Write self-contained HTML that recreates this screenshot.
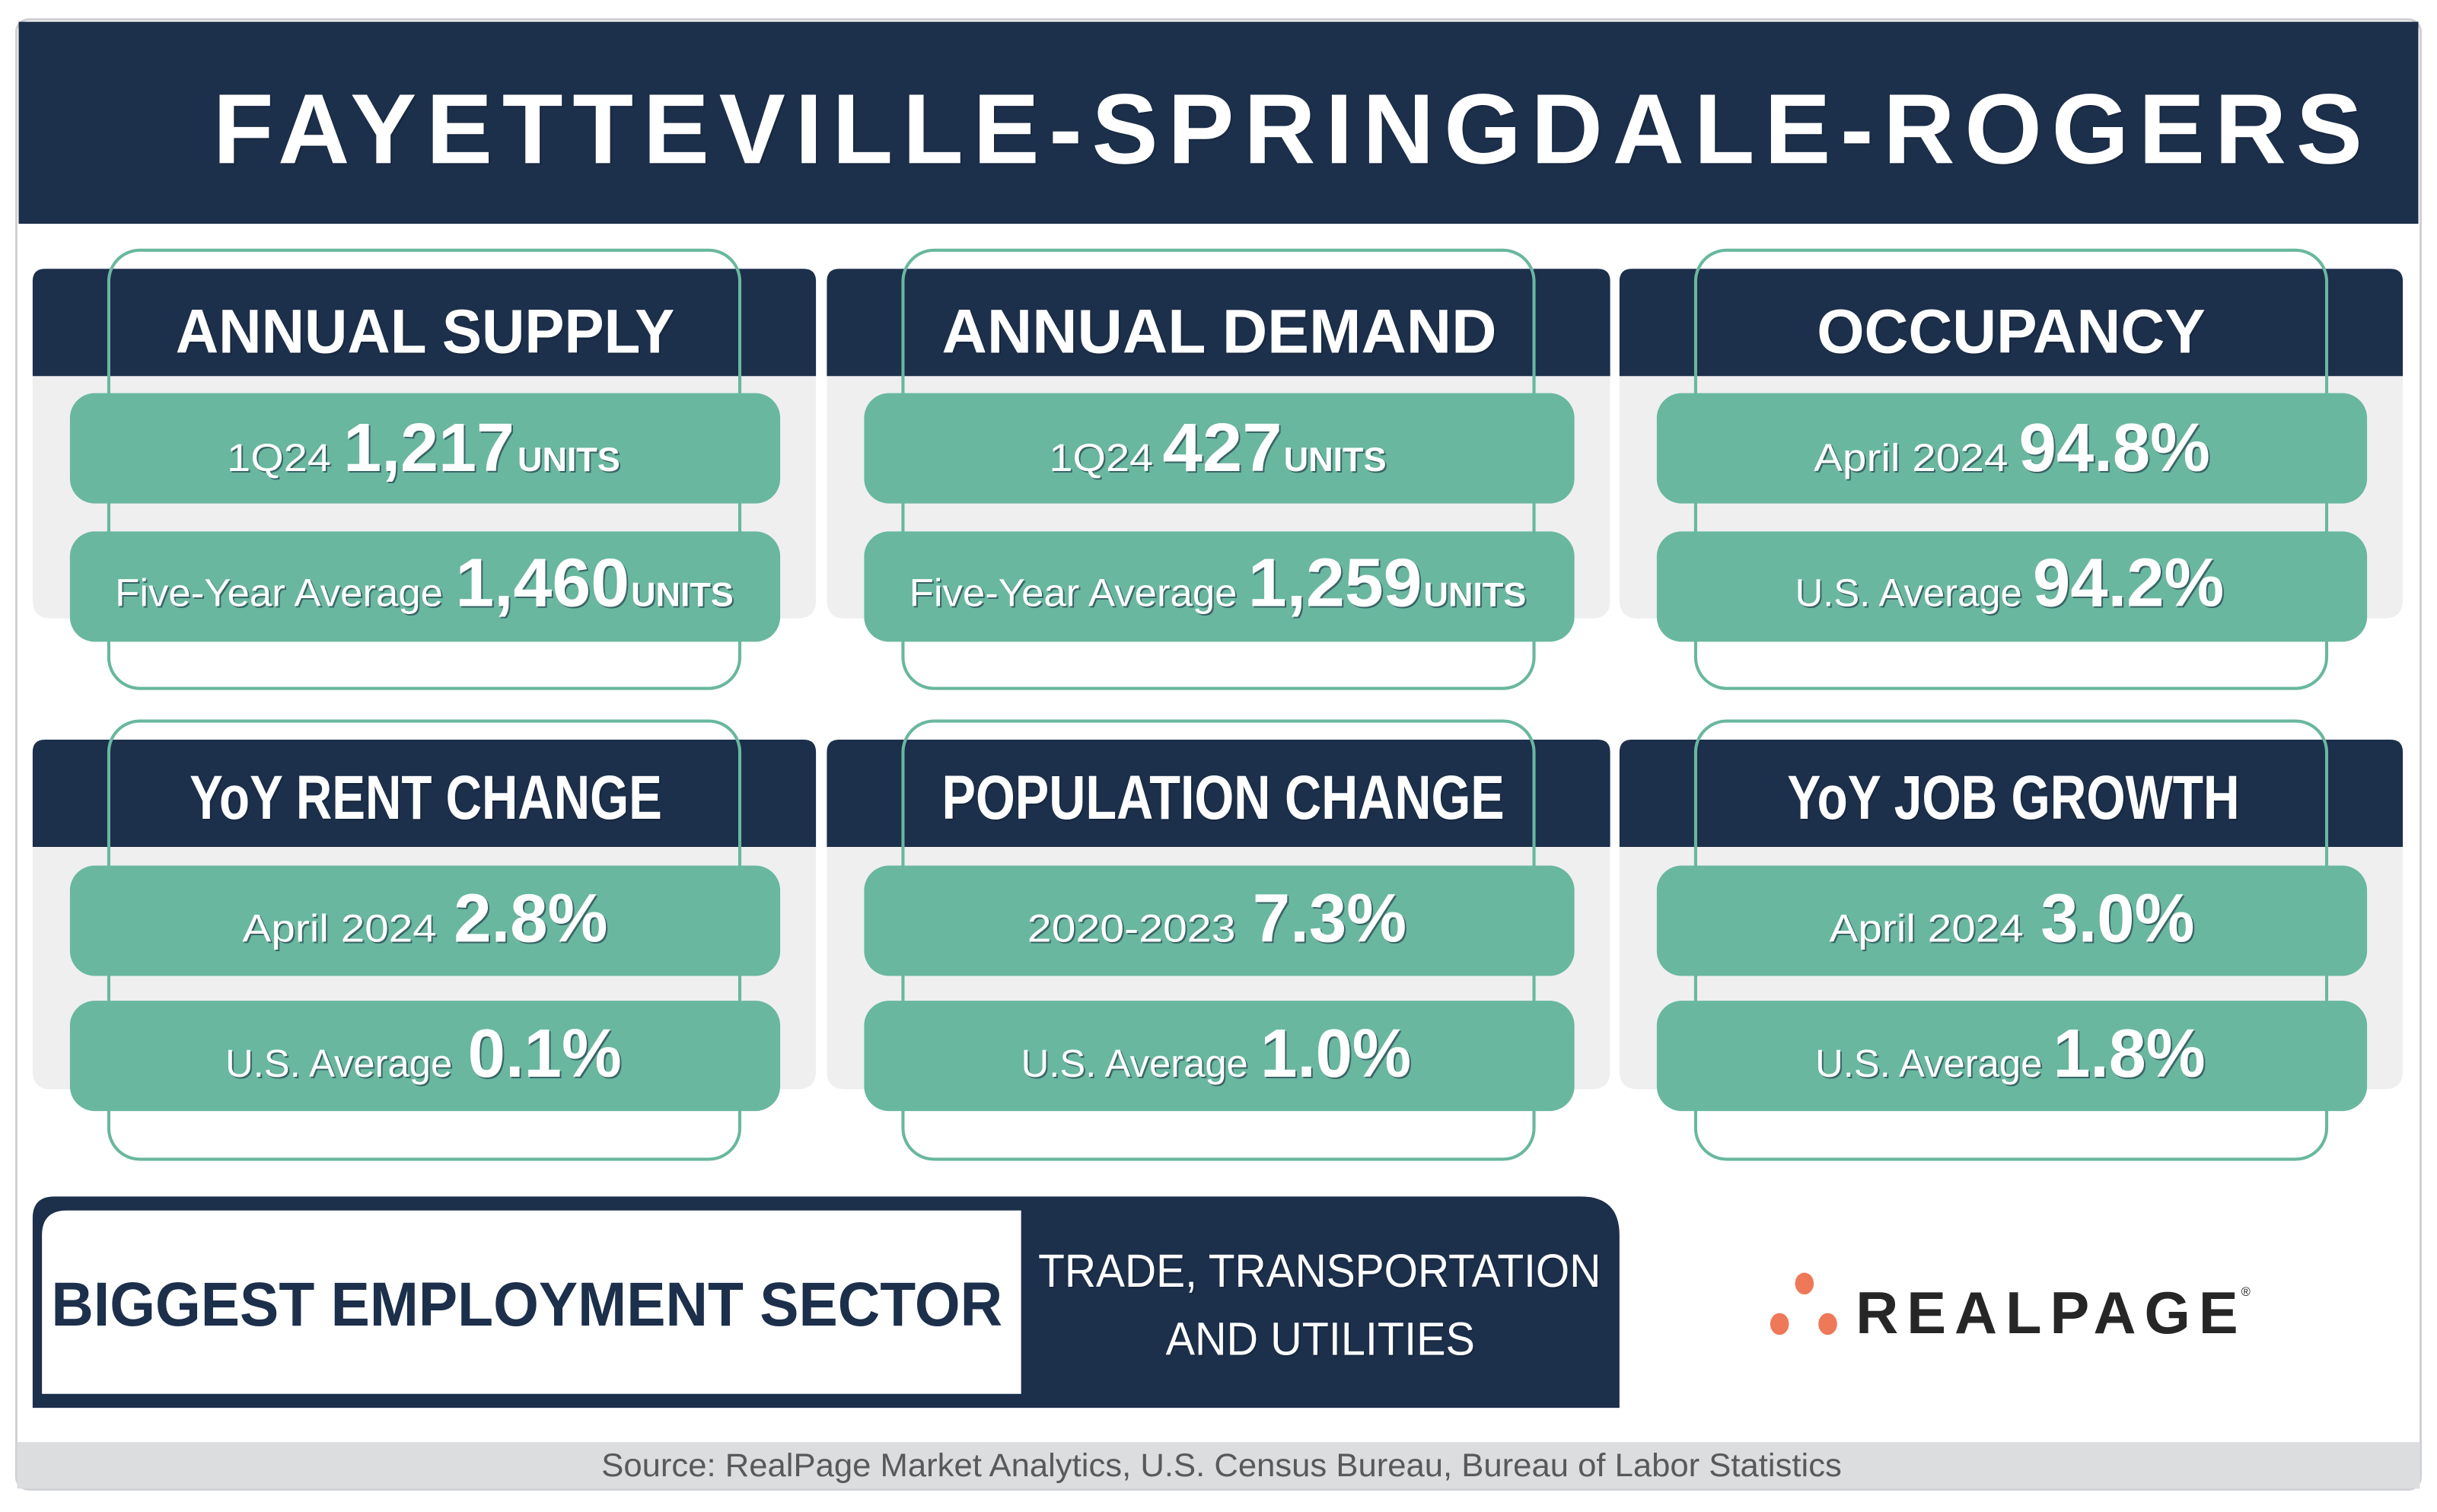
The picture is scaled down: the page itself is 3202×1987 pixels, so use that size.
<!DOCTYPE html>
<html><head><meta charset="utf-8">
<style>
html,body{margin:0;padding:0;background:#fff;}
svg{display:block;}
text{font-family:"Liberation Sans",sans-serif;}
.sh{filter:drop-shadow(1.2px 1.5px 0 rgba(20,35,55,0.55));}
</style></head>
<body>
<svg id="root" width="3202" height="1987" viewBox="0 0 1568 973" xmlns="http://www.w3.org/2000/svg">
  <rect x="10.5" y="12.5" width="1547" height="946" rx="8" fill="#fff" stroke="#cfd1d4" stroke-width="1.5"/>
  <rect x="12" y="14" width="1544" height="130" fill="#1c2f4b"/>
  <text class="sh" x="137" y="105" textLength="1383" lengthAdjust="spacing" font-size="64" font-weight="700" fill="#fff">FAYETTEVILLE-SPRINGDALE-ROGERS</text>
  <g id="panels"></g>
  <path d="M21,906 V784 Q21,770 35,770 H1017 Q1042,770 1042,795 V906 Z" fill="#1c2f4b"/>
  <path d="M27,897 V795 Q27,779 43,779 H657 V897 Z" fill="#fff"/>
  <text x="33" y="853" textLength="612" lengthAdjust="spacingAndGlyphs" font-size="40" font-weight="700" fill="#1c2f4b">BIGGEST EMPLOYMENT SECTOR</text>
  <text class="sh" x="668" y="828" textLength="362" lengthAdjust="spacingAndGlyphs" font-size="30" fill="#fff">TRADE, TRANSPORTATION</text>
  <text class="sh" x="750" y="872" textLength="199" lengthAdjust="spacingAndGlyphs" font-size="30" fill="#fff">AND UTILITIES</text>
  <g>
    <ellipse cx="1161" cy="826" rx="6" ry="7" fill="#ee7858"/>
    <ellipse cx="1145" cy="852" rx="6" ry="7" fill="#ee7858"/>
    <ellipse cx="1176" cy="852" rx="6" ry="7" fill="#ee7858"/>
    <text x="1194" y="858" textLength="246" lengthAdjust="spacing" font-size="38" font-weight="700" fill="#262626" style="font-weight:600">REALPAGE</text>
    <text x="1442" y="834" font-size="8" fill="#262626">®</text>
  </g>
  <rect x="11" y="928" width="1546" height="30" fill="#dcdddf"/>
  <text x="387" y="950" textLength="798" lengthAdjust="spacingAndGlyphs" font-size="21" fill="#58595b">Source: RealPage Market Analytics, U.S. Census Bureau, Bureau of Labor Statistics</text>
</svg>
<script>
const NS='http://www.w3.org/2000/svg';
const g=document.getElementById('panels');
function mk(tag,attrs,parent){const e=document.createElementNS(NS,tag);for(const k in attrs)e.setAttribute(k,attrs[k]);(parent||g).appendChild(e);return e;}
const cols=[21,532,1042];
const rows=[{h:173,o:161,p1:253,p2:342,b1:303,b2:390,hb:227},{h:476,o:464,p1:557,p2:644,b1:606,b2:693,hb:527}];
const panels=[
 {r:0,c:0,name:'annual-supply',title:'ANNUAL SUPPLY',tx:[113,434],
  l1:[['1Q24',146,213,'n'],['1,217',221,331,'b'],['UNITS',333,399,'u']],
  l2:[['Five-Year Average',74,285,'n'],['1,460',293,405,'b'],['UNITS',406,472,'u']]},
 {r:0,c:1,name:'annual-demand',title:'ANNUAL DEMAND',tx:[606,963],
  l1:[['1Q24',675,742,'n'],['427',748,825,'b'],['UNITS',826,892,'u']],
  l2:[['Five-Year Average',585,796,'n'],['1,259',803,915,'b'],['UNITS',916,982,'u']]},
 {r:0,c:2,name:'occupancy',title:'OCCUPANCY',tx:[1169,1419],
  l1:[['April 2024',1167,1292,'n'],['94.8%',1299,1422,'b']],
  l2:[['U.S. Average',1155,1301,'n'],['94.2%',1308,1431,'b']]},
 {r:1,c:0,name:'yoy-rent-change',title:'YoY RENT CHANGE',tx:[122,426],
  l1:[['April 2024',156,281,'n'],['2.8%',292,391,'b']],
  l2:[['U.S. Average',145,291,'n'],['0.1%',301,400,'b']]},
 {r:1,c:1,name:'population-change',title:'POPULATION CHANGE',tx:[606,968],
  l1:[['2020-2023',661,795,'n'],['7.3%',806,905,'b']],
  l2:[['U.S. Average',657,803,'n'],['1.0%',811,908,'b']]},
 {r:1,c:2,name:'yoy-job-growth',title:'YoY JOB GROWTH',tx:[1150,1441],
  l1:[['April 2024',1177,1302,'n'],['3.0%',1313,1412,'b']],
  l2:[['U.S. Average',1168,1314,'n'],['1.8%',1321,1419,'b']]}
];
panels.forEach(p=>{
 const x=cols[p.c], R=rows[p.r];
 const pg=mk('g',{});
 
 
 mk('path',{d:`M${x},${R.h+69} H${x+504} V${R.h+213} Q${x+504},${R.h+225} ${x+492},${R.h+225} H${x+12} Q${x},${R.h+225} ${x},${R.h+213} Z`,fill:'#efefef'},pg);
 const hd=mk('path',{d:`M${x},${R.h+69} V${R.h+8} Q${x},${R.h} ${x+8},${R.h} H${x+496} Q${x+504},${R.h} ${x+504},${R.h+8} V${R.h+69} Z`,fill:'#1c2f4b'},pg);
 
 
 const ol=mk('rect',{x:x+49,y:R.o,width:406,height:282,rx:20,fill:'none',stroke:'#69b79f','stroke-width':2},pg);
 
 
 const t=mk('text',{x:p.tx[0],y:R.hb,textLength:p.tx[1]-p.tx[0],lengthAdjust:'spacingAndGlyphs','font-size':40,'font-weight':700,fill:'#fff',class:'sh'},pg);
 t.textContent=p.title;
 
 
 [[R.p1,R.b1,p.l1],[R.p2,R.b2,p.l2]].forEach((q,i)=>{
  const pill=mk('rect',{x:x+24,y:q[0],width:457,height:71,rx:16,fill:'#69b79f'},pg);
  
  
  q[2].forEach(s=>{
   const fs=s[3]==='b'?44:(s[3]==='u'?22:25);
   const te=mk('text',{x:s[1],y:q[1],textLength:s[2]-s[1],lengthAdjust:'spacingAndGlyphs','font-size':fs,'font-weight':s[3]==='n'?400:700,fill:'#fff',class:'sh'},pg);
   te.textContent=s[0];
   
   
  });
 });
});
</script>
</body></html>
